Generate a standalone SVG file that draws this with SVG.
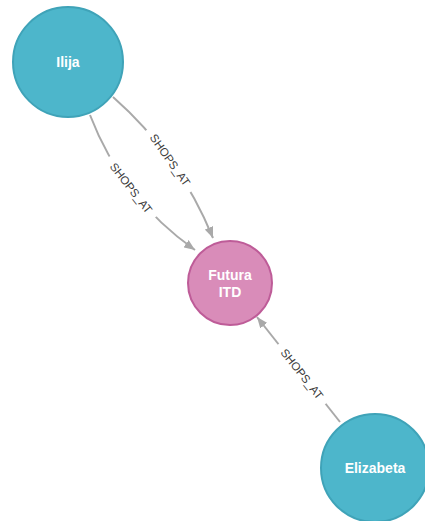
<svg xmlns="http://www.w3.org/2000/svg" width="425" height="521" viewBox="0 0 425 521">
  <defs>
    <style>
      .edge { fill: none; stroke: #A9A9A9; stroke-width: 2; }
      .gap { fill: #FFFFFF; }
      .elabel { font-family: "Liberation Sans", Arial, sans-serif; font-size: 11.5px; fill: #3A3A3A; text-anchor: middle; dominant-baseline: central; }
      .person { fill: #4DB6CB; stroke: #3FA3B8; stroke-width: 2; }
      .shop { fill: #D98CB9; stroke: #BE5C98; stroke-width: 2; }
      .nlabel { font-family: "Liberation Sans", Arial, sans-serif; font-size: 14px; font-weight: bold; fill: #FFFFFF; text-anchor: middle; }
    </style>
    <marker id="arrow" markerWidth="11" markerHeight="9" refX="11" refY="4.5" orient="auto" markerUnits="userSpaceOnUse">
      <path d="M0,0 L11,4.5 L0,9 z" fill="#A9A9A9"/>
    </marker>
  </defs>
  <rect width="425" height="521" fill="#FFFFFF"/>

  <g id="connectors">
    <g id="edge-ilija-futura-1">
      <path class="edge" d="M113,97 Q179,155 213,238" marker-end="url(#arrow)"/>
      <g transform="translate(170,160) rotate(54.7)">
        <rect class="gap" x="-38" y="-7" width="76" height="14"/>
        <text class="elabel" x="0" y="0">SHOPS_AT</text>
      </g>
    </g>
    <g id="edge-ilija-futura-2">
      <path class="edge" d="M90,115 Q122,198.5 195,250" marker-end="url(#arrow)"/>
      <g transform="translate(131,188) rotate(52)">
        <rect class="gap" x="-38" y="-7" width="76" height="14"/>
        <text class="elabel" x="0" y="0">SHOPS_AT</text>
      </g>
    </g>
    <g id="edge-elizabeta-futura">
      <path class="edge" d="M340,422 L257,317" marker-end="url(#arrow)"/>
      <g transform="translate(302,374) rotate(51.7)">
        <rect class="gap" x="-38" y="-7" width="76" height="14"/>
        <text class="elabel" x="0" y="0">SHOPS_AT</text>
      </g>
    </g>
  </g>

  <g id="node-ilija">
    <circle class="person" cx="68" cy="62" r="55"/>
    <text class="nlabel" x="68" y="67">Ilija</text>
  </g>
  <g id="node-futura">
    <circle class="shop" cx="230" cy="283" r="42"/>
    <text class="nlabel" x="230" y="280">Futura</text>
    <text class="nlabel" x="230" y="297">ITD</text>
  </g>
  <g id="node-elizabeta">
    <circle class="person" cx="375" cy="468" r="54"/>
    <text class="nlabel" x="375" y="473">Elizabeta</text>
  </g>
</svg>
